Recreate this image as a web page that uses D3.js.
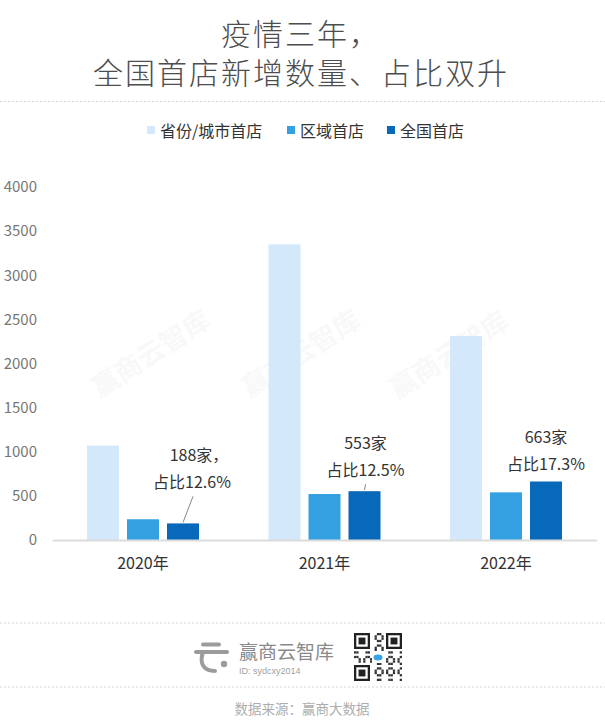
<!DOCTYPE html>
<html>
<head>
<meta charset="utf-8">
<script src="https://cdn.jsdelivr.net/npm/d3@7"></script>
<style>
  html, body { margin: 0; padding: 0; background: #fff; }
  svg { display: block; font-family: "Noto Sans CJK SC", "Noto Sans", sans-serif; }
</style>
</head>
<body>
<svg id="chart" width="605" height="724"></svg>
<script>
// ---------------- data ----------------
const years = ["2020年", "2021年", "2022年"];
const seriesNames = ["省份/城市首店", "区域首店", "全国首店"];
const provinceValues = [1069, 3350, 2311];
const regionValues = [235, 521, 540];
const nationalValues = [188, 553, 663];
const yTicks = [0, 500, 1000, 1500, 2000, 2500, 3000, 3500, 4000];
const annoLine1 = ["188家，", "553家", "663家"];
const annoLine2 = ["占比12.6%", "占比12.5%", "占比17.3%"];
const titleLines = ["疫情三年，", "全国首店新增数量、占比双升"];

// ---------------- layout / style ----------------
const colors = ["#d3e8fa", "#34a0e1", "#0868b9"];
const annoLayout = [ // offsets relative to national bar (center x, top y)
  { dx: 9, dy2: -42, lead: [[10, -27], [0, -1]] },
  { dx: 1, dy2: -22, lead: [[1, -7], [0, -1]] },
  { dx: 0, dy2: -18, lead: null }
];

const svg = d3.select("#chart");
const W = 605;

// table built from arrays
const table = years.map((y, i) => ({
  year: y,
  values: [provinceValues[i], regionValues[i], nationalValues[i]]
}));

// ---------------- title ----------------
svg.selectAll("text.title").data(titleLines).join("text")
  .attr("class", "title")
  .attr("x", 301).attr("y", (d, i) => 31.5 + i * 39)
  .attr("text-anchor", "middle").attr("dominant-baseline", "central")
  .attr("font-size", 30).attr("letter-spacing", 2).attr("font-weight", 300)
  .attr("fill", "#4d4d4d").text(d => d);

// dashed separators
[101.5, 623, 687].forEach(y => {
  svg.append("line").attr("x1", 0).attr("x2", W).attr("y1", y).attr("y2", y)
    .attr("stroke", "#d4d4d4").attr("stroke-width", 1).attr("stroke-dasharray", "2,2");
});

// ---------------- legend ----------------
const legendX = [147, 287, 387];
const lg = svg.selectAll("g.legend").data(seriesNames).join("g")
  .attr("class", "legend")
  .attr("transform", (d, i) => `translate(${legendX[i]},130)`);
lg.append("rect").attr("x", 0).attr("y", -4).attr("width", 8).attr("height", 8)
  .attr("fill", (d, i) => colors[i]);
lg.append("text").attr("x", 13).attr("y", 0).attr("dominant-baseline", "central")
  .attr("font-size", 16).attr("fill", "#333").text(d => d);

// ---------------- scales ----------------
const y = d3.scaleLinear().domain([0, 4000]).range([540, 187]);
const x0 = d3.scaleBand().domain(years).range([52.25, 596.75]).padding(0);
const x1 = d3.scaleBand().domain(d3.range(seriesNames.length)).range([0, 112]).paddingInner(0.2);
const groupLeft = yr => x0(yr) + x0.bandwidth() / 2 - 56;

// ---------------- watermarks ----------------
[[150, 352], [300, 352], [448, 353]].forEach(([cx, cy]) => {
  svg.append("text").attr("transform", `translate(${cx},${cy}) rotate(-33)`)
    .attr("text-anchor", "middle").attr("dominant-baseline", "central")
    .attr("font-size", 27).attr("font-weight", "bold")
    .attr("fill", "#9a9a9a").attr("opacity", 0.06).text("赢商云智库");
});

// ---------------- y axis ----------------
const yAxis = d3.axisLeft(y).tickValues(yTicks).tickSize(0).tickPadding(0).tickFormat(d3.format("d"));
const yg = svg.append("g").attr("transform", "translate(37,0)").call(yAxis);
yg.select(".domain").remove();
yg.selectAll("text").attr("font-size", 15).attr("fill", "#777")
  .attr("font-family", "'Noto Sans CJK SC', sans-serif");

// ---------------- bars ----------------
const groups = svg.selectAll("g.grp").data(table).join("g")
  .attr("class", "grp")
  .attr("transform", d => `translate(${groupLeft(d.year)},0)`);
groups.selectAll("rect").data(d => d.values.map((v, i) => ({ v, i }))).join("rect")
  .attr("x", d => x1(d.i)).attr("width", x1.bandwidth())
  .attr("y", d => y(d.v)).attr("height", d => y(0) - y(d.v))
  .attr("fill", d => colors[d.i]);

// baseline / x axis
const xAxis = d3.axisBottom(x0).tickSize(0).tickPadding(18);
const xg = svg.append("g").attr("transform", `translate(0,${y(0)})`).call(xAxis);
xg.select(".domain").attr("stroke", "#dcdcdc").attr("stroke-width", 2);
xg.selectAll("text").attr("font-size", 16).attr("fill", "#333")
  .attr("font-family", "'Noto Sans CJK SC', sans-serif");

// ---------------- annotations ----------------
table.forEach((d, i) => {
  const bx = groupLeft(d.year) + x1(2) + x1.bandwidth() / 2;
  const by = y(nationalValues[i]);
  const L = annoLayout[i];
  const cx = bx + L.dx;
  svg.append("text").attr("x", cx).attr("y", by + L.dy2 - 27.5)
    .attr("text-anchor", "middle").attr("dominant-baseline", "central")
    .attr("font-size", 16).attr("fill", "#333")
    .attr("dx", i === 0 ? 7 : 0).text(annoLine1[i]);
  svg.append("text").attr("x", cx).attr("y", by + L.dy2)
    .attr("text-anchor", "middle").attr("dominant-baseline", "central")
    .attr("font-size", 16).attr("fill", "#333").text(annoLine2[i]);
  if (L.lead) {
    svg.append("line")
      .attr("x1", bx + L.lead[0][0]).attr("y1", by + L.lead[0][1])
      .attr("x2", bx + L.lead[1][0]).attr("y2", by + L.lead[1][1])
      .attr("stroke", "#888").attr("stroke-width", 1);
  }
});

// ---------------- footer ----------------
const logo = svg.append("g").attr("stroke", "#9b9b9b").attr("fill", "none")
  .attr("stroke-linecap", "round");
logo.append("path").attr("d", "M203,644.5 H219").attr("stroke-width", 4);
logo.append("path").attr("d", "M196,652 H227").attr("stroke-width", 4);
logo.append("path").attr("d", "M203,652 C199,664 204,671 215,671").attr("stroke-width", 4);
svg.append("circle").attr("cx", 224).attr("cy", 664).attr("r", 3.2).attr("fill", "#9b9b9b");

svg.append("text").attr("x", 239).attr("y", 650).attr("dominant-baseline", "central")
  .attr("font-size", 19).attr("fill", "#8a8a8a").text("赢商云智库");
svg.append("text").attr("x", 239).attr("y", 670.5).attr("dominant-baseline", "central")
  .attr("font-size", 9).attr("fill", "#a0a0a0")
  .attr("font-family", "'Liberation Sans', Arial, sans-serif").text("ID: sydcxy2014");

// QR-like decoration
const qr = svg.append("g").attr("transform", "translate(354,633)");
const N = 21, m = 48 / N;
const finder = (r, c) => {
  qr.append("rect").attr("x", c * m).attr("y", r * m).attr("width", 7 * m).attr("height", 7 * m).attr("fill", "#222");
  qr.append("rect").attr("x", (c + 1) * m).attr("y", (r + 1) * m).attr("width", 5 * m).attr("height", 5 * m).attr("fill", "#fff");
  qr.append("rect").attr("x", (c + 2) * m).attr("y", (r + 2) * m).attr("width", 3 * m).attr("height", 3 * m).attr("fill", "#222");
};
for (let r = 0; r < N; r++) {
  for (let c = 0; c < N; c++) {
    const inFinder = (r < 8 && c < 8) || (r < 8 && c > 12) || (r > 12 && c < 8);
    if (inFinder) continue;
    if (((r * 7 + c * 11 + r * c) % 5) < 2) {
      qr.append("rect").attr("x", c * m).attr("y", r * m).attr("width", m).attr("height", m).attr("fill", "#333");
    }
  }
}
finder(0, 0); finder(0, 14); finder(14, 0);
qr.append("rect").attr("x", 18).attr("y", 18).attr("width", 12).attr("height", 12).attr("fill", "#fff");
qr.append("ellipse").attr("cx", 24).attr("cy", 24.5).attr("rx", 4.5).attr("ry", 3).attr("fill", "#3aa3e3");

svg.append("text").attr("x", 302).attr("y", 708).attr("text-anchor", "middle")
  .attr("dominant-baseline", "central").attr("font-size", 13.5).attr("fill", "#adadad")
  .text("数据来源：赢商大数据");
</script>
</body>
</html>
